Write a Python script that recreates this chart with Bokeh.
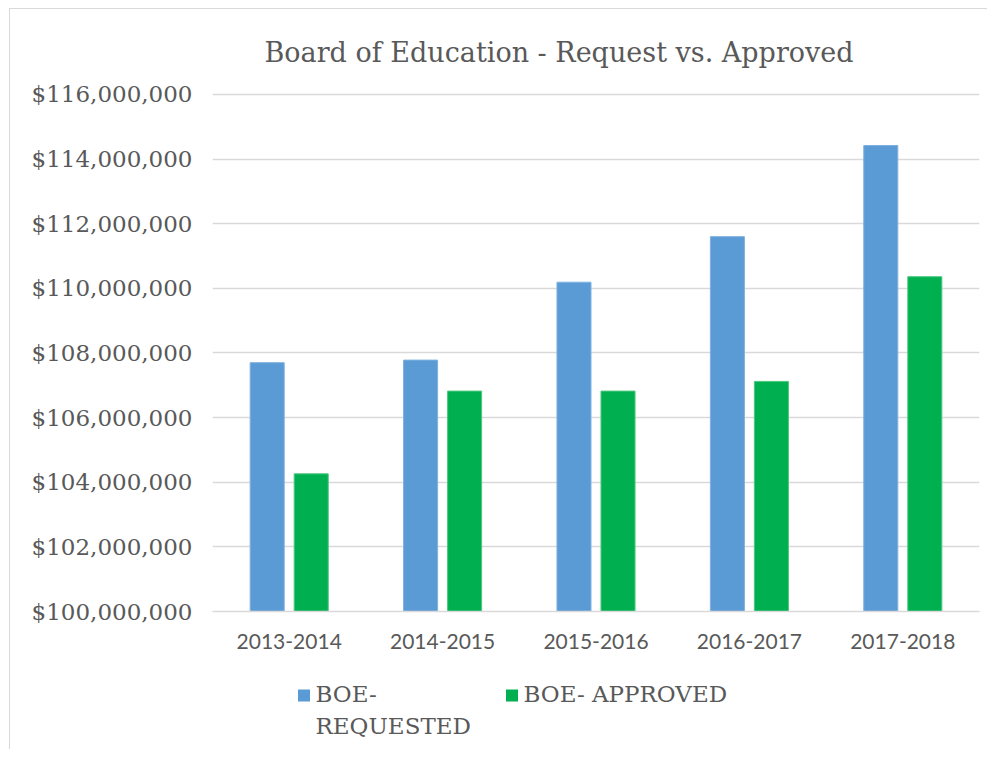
from bokeh.plotting import figure
from bokeh.models import (ColumnDataSource, FactorRange, Range1d, NumeralTickFormatter,
                          Title, FixedTicker)
from bokeh.layouts import column
from bokeh.transform import dodge
from bokeh.core.properties import value
from bokeh.embed import file_html
from bokeh.resources import INLINE

# ---- data ----
years = ["2013-2014", "2014-2015", "2015-2016", "2016-2017", "2017-2018"]
requested = [107_700_000, 107_780_000, 110_190_000, 111_600_000, 114_420_000]
approved = [104_260_000, 106_820_000, 106_820_000, 107_120_000, 110_360_000]
y_ticks = [100_000_000, 102_000_000, 104_000_000, 106_000_000, 108_000_000,
           110_000_000, 112_000_000, 114_000_000, 116_000_000]
title_text = "Board of Education - Request vs. Approved"
series_names = ["BOE-\nREQUESTED", "BOE- APPROVED"]

BLUE = "#5B9BD5"
GREEN = "#00B050"
TEXT = "#595959"
GRID = "#D9D9D9"
series_colors = [BLUE, GREEN]

src = ColumnDataSource(dict(years=years, requested=requested, approved=approved,
                            base=[y_ticks[0]] * len(years)))

p = figure(x_range=FactorRange(*years), y_range=Range1d(y_ticks[0], 116_060_000),
           frame_width=767, frame_height=519, output_backend="svg", toolbar_location=None,
           min_border_left=202, min_border_right=8, min_border_top=83, min_border_bottom=60,
           background_fill_color="white", border_fill_color="white", title=None)
p.outline_line_color = None

r1 = p.vbar(x=dodge("years", -0.1435, range=p.x_range), top="requested", bottom="base",
            width=0.222, source=src, fill_color=BLUE, line_color="#7FB2E0", line_width=1)
r2 = p.vbar(x=dodge("years", 0.1435, range=p.x_range), top="approved", bottom="base",
            width=0.222, source=src, fill_color=GREEN, line_color="#4CC77E", line_width=1)

# axes
p.yaxis.ticker = FixedTicker(ticks=y_ticks)
p.yaxis.formatter = NumeralTickFormatter(format="$0,0")
p.yaxis.axis_line_color = None
p.yaxis.major_tick_line_color = None
p.yaxis.minor_tick_line_color = None
p.yaxis.major_tick_out = 0
p.yaxis.major_label_standoff = 20
p.yaxis.major_label_text_font = "DejaVu Serif"
p.yaxis.major_label_text_font_size = "23px"
p.yaxis.major_label_text_color = TEXT

p.xaxis.axis_line_color = GRID
p.xaxis.axis_line_width = 1.5
p.xaxis.major_tick_line_color = None
p.xaxis.minor_tick_line_color = None
p.xaxis.major_tick_out = 0
p.xaxis.major_label_standoff = 22
p.xaxis.major_label_text_font = "Lato"
p.xaxis.major_label_text_font_size = "21px"
p.xaxis.major_label_text_color = TEXT

p.xgrid.grid_line_color = None
p.ygrid.grid_line_color = GRID
p.ygrid.grid_line_width = 1.5

# title
p.add_layout(Title(text=title_text, align="left", offset=52, standoff=49,
                   text_font="DejaVu Serif", text_font_size="27px",
                   text_font_style="normal", text_color=TEXT), "above")

# legend strip below the chart (frame aligned with the chart's frame, pixel-like coords)
FW, LH = 767, 78
leg = figure(frame_width=FW, frame_height=LH, x_range=Range1d(0, FW), y_range=Range1d(LH, 0),
             output_backend="svg", toolbar_location=None,
             min_border_left=202, min_border_right=8, min_border_top=0, min_border_bottom=0,
             background_fill_color="white", border_fill_color="white")
leg.outline_line_color = None
leg.axis.visible = False
leg.grid.visible = False
leg_src = ColumnDataSource(dict(sx=[91.5, 299.5], sy=[24, 24],
                                tx=[103, 311], ty=[9, 9],
                                name=series_names, color=series_colors))
leg.scatter(x="sx", y="sy", marker="square", size=12, fill_color="color",
            line_color=None, source=leg_src)
leg.text(x="tx", y="ty", text="name", source=leg_src, text_font=value("DejaVu Serif"),
         text_font_size="23px", text_color=TEXT, text_baseline="top",
         text_align="left", text_line_height=1.25)

layout = column(p, leg, spacing=0)
layout.styles = {"margin-left": "9px", "margin-top": "8px",
                 "border-left": "1px solid #D9D9D9", "border-top": "1px solid #D9D9D9"}

open("out.html", "w").write(file_html(layout, INLINE))
